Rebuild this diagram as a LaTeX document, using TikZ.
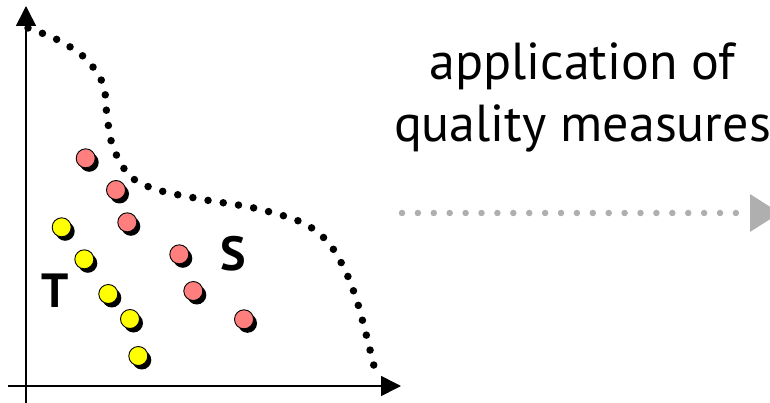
\documentclass[tikz,border=0pt]{standalone}
\usepackage{fontspec}
\setmainfont{PT Sans}
\usetikzlibrary{arrows.meta, positioning, shadows}
\definecolor{pointRed}{HTML}{FF7F7F}
\definecolor{pointYellow}{HTML}{FFFF00}
\definecolor{arrowGray}{HTML}{AFAFAF}

\begin{document}
\begin{tikzpicture}[x=1pt, y=-1pt,
    axis/.style={line width=1.6pt, -{Triangle[length=20pt, width=20pt]}},
    frontier/.style={line width=7.5pt, line cap=round, dash pattern=on 0pt off 15.4pt},
    point/.style={circle, draw=black, line width=0.9pt, minimum size=19pt, inner sep=0pt,
      drop shadow={shadow xshift=3.5pt, shadow yshift=-4pt, opacity=1, fill=black}},
    redpt/.style={point, fill=pointRed},
    yellowpt/.style={point, fill=pointYellow},
    setlabel/.style={font=\bfseries\fontsize{48}{48}\selectfont, inner sep=0pt},
    flow/.style={arrowGray, line width=6.5pt, line cap=round, dash pattern=on 0pt off 15.9pt,
      -{Triangle[length=30pt, width=36pt]}}
  ]
  \useasboundingbox (0,0) rectangle (770,403);

  % axes
  \coordinate (ytop) at (26,6);
  \coordinate (ybot) at (26,403);
  \coordinate (xleft) at (8,386);
  \coordinate (xright) at (401,386);
  \draw[axis] (ybot) -- (ytop);
  \draw[axis] (xleft) -- (xright);

  % dotted frontier
  \draw[frontier] plot[smooth, tension=0.55] coordinates {
    (28,28) (58,40) (85,58) (103,84) (107,116) (113,147) (130,176)
    (158,190) (206,200) (254,208) (301,222) (327,241) (344,268)
    (356,298) (365,330) (373,362) (377,379)};

  % points of S
  \foreach \name/\px/\py in {p1/85.7/158.3, p2/116/190, p3/127.3/222.3,
      p4/179.3/254.3, p5/193.3/291, p6/244/319.3}
    \node[redpt] (\name) at (\px,\py) {};

  % points of T
  \foreach \name/\px/\py in {t1/61.7/227.3, t2/84.3/259.3, t3/108.3/294,
      t4/130/319, t5/138.3/356}
    \node[yellowpt] (\name) at (\px,\py) {};

  \node[setlabel] (labT) at (55,291) {T};
  \node[setlabel] (labS) at (233,254) {S};

  % application step
  \node[font=\fontsize{52}{62}\selectfont, align=center, inner sep=0pt, anchor=base]
    (step) at (582.5,142) {application of\\quality measures};
  \coordinate (flowstart) at (402,213);
  \coordinate (flowend) at (780,213);
  \draw[flow] (flowstart) -- (flowend);
\end{tikzpicture}
\end{document}
